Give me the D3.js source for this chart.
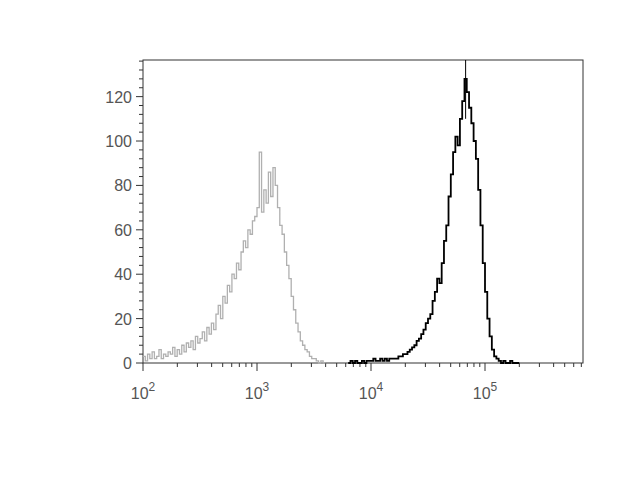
<!DOCTYPE html><html><head><meta charset="utf-8">
<script src="https://d3js.org/d3.v7.min.js"></script>
<style>body{margin:0;background:#fff}</style></head><body>
<svg id="c" width="633" height="493"></svg>
<script>
const step = 0.02;
const grayStart = 2.0;
const grayCounts = [3,1,4,2,5,2,3,6,2,4,3,5,4,7,3,6,4,8,5,9,
7,10,6,12,9,11,14,10,16,13,
18,15,22,26,20,30,27,35,32,40,
38,45,42,50,55,52,60,58,64,66,
70,95,68,78,72,86,75,88,80,70,
62,58,50,44,38,30,24,18,14,10,
8,6,5,3,2,2,1,0,1,0,0];
const blackStart = 3.8;
const blackCounts = [0,1,0,1,0,0,1,0,1,1,
1,2,1,1,2,1,2,1,2,2,
2,2,3,3,4,4,5,6,7,8,
10,11,13,15,18,20,22,28,32,38,
36,45,55,62,75,85,95,102,98,110,
118,128,122,115,108,100,92,78,62,45,
32,20,12,6,3,2,1,0,1,0,
0,1,0,0,0,0];
const spikeLog = 4.83;
const yTicks = [0,20,40,60,80,100,120];
const xTickExp = [2,3,4,5];

const svg = d3.select("#c");
const L=143,R=583,T=60,B=363;
const x = d3.scaleLinear().domain([2,5+ (R-485)/114]).range([L,R]);
const y = d3.scaleLinear().domain([0,136.5]).range([B,T]);
const g = svg.append("g");
g.append("rect").attr("x",L).attr("y",T).attr("width",R-L).attr("height",B-T).attr("fill","none").attr("stroke","#333").attr("stroke-width",1);
for(let v=0; v<=136; v+=4){
  const major = v%20===0;
  g.append("line").attr("x1",L).attr("x2",L-(major?7:4)).attr("y1",y(v)).attr("y2",y(v)).attr("stroke","#333");
}
yTicks.forEach(v=>g.append("text").attr("x",L-11).attr("y",y(v)+6).attr("text-anchor","end")
  .attr("font-family","Liberation Sans, Arial").attr("font-size",16).attr("fill","#555").text(v));
const xmax = x.domain()[1];
for(let e=2;e<6;e++){
  for(let k=1;k<10;k++){
    const lv = e+Math.log10(k);
    if(lv>xmax) break;
    g.append("line").attr("x1",x(lv)).attr("x2",x(lv)).attr("y1",B).attr("y2",B+(k===1?8:4)).attr("stroke","#333");
  }
}
xTickExp.forEach(e=>{
  const t=g.append("text").attr("x",x(e)).attr("y",B+36).attr("text-anchor","middle")
   .attr("font-family","Liberation Sans, Arial").attr("font-size",16).attr("fill","#555");
  t.append("tspan").text("10");
  t.append("tspan").attr("dy",-8).attr("font-size",12).text(e);
});
const line = d3.line().x(d=>x(d[0])).y(d=>y(d[1])).curve(d3.curveStepAfter);
const gd = grayCounts.map((c,i)=>[grayStart+i*step,c]);
const bd = blackCounts.map((c,i)=>[blackStart+i*step,c]);
g.append("path").attr("d",line(gd)).attr("fill","none").attr("stroke","#b0b0b0").attr("stroke-width",1.3);
g.append("path").attr("d",line(bd)).attr("fill","none").attr("stroke","#000").attr("stroke-width",1.8);
g.append("line").attr("x1",x(spikeLog)).attr("x2",x(spikeLog)).attr("y1",y(110)).attr("y2",T).attr("stroke","#000");
</script></body></html>
